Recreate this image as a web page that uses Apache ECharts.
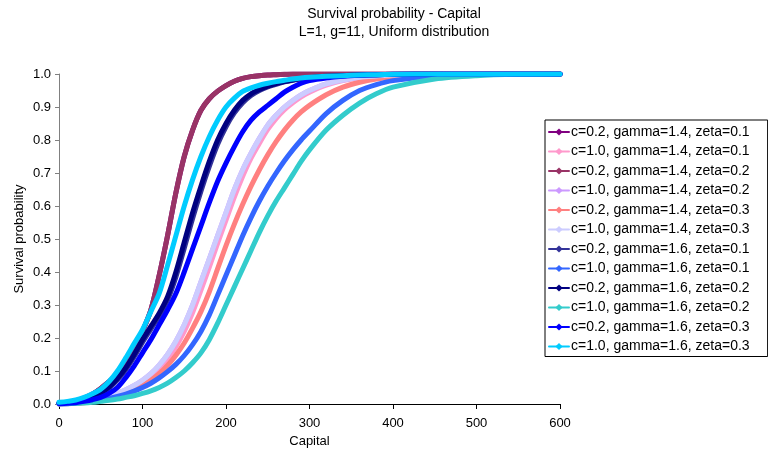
<!DOCTYPE html>
<html>
<head>
<meta charset="utf-8">
<script src="https://cdn.jsdelivr.net/npm/echarts@6/dist/echarts.min.js"></script>
<style>
html,body{margin:0;padding:0;background:#fff;}
#chart{width:768px;height:454px;}
</style>
</head>
<body>
<div id="chart"></div>
<script>
// Capital grid (x values)
const capital = [0,10,20,30,40,50,60,70,80,90,100,110,120,130,140,150,160,170,180,190,200,210,220,230,240,250,260,270,280,290,300,320,340,360,380,400,450,500,550,600];
const xTicks = [0,100,200,300,400,500,600];
const yTicks = [0,0.1,0.2,0.3,0.4,0.5,0.6,0.7,0.8,0.9,1.0];

const seriesNames = [
  'c=0.2, gamma=1.4, zeta=0.1','c=1.0, gamma=1.4, zeta=0.1',
  'c=0.2, gamma=1.4, zeta=0.2','c=1.0, gamma=1.4, zeta=0.2',
  'c=0.2, gamma=1.4, zeta=0.3','c=1.0, gamma=1.4, zeta=0.3',
  'c=0.2, gamma=1.6, zeta=0.1','c=1.0, gamma=1.6, zeta=0.1',
  'c=0.2, gamma=1.6, zeta=0.2','c=1.0, gamma=1.6, zeta=0.2',
  'c=0.2, gamma=1.6, zeta=0.3','c=1.0, gamma=1.6, zeta=0.3'
];

const c02_g14_z01 = [0,0.003,0.008,0.018,0.03,0.047,0.068,0.09,0.118,0.16,0.22,0.285,0.39,0.51,0.64,0.75,0.83,0.89,0.925,0.948,0.965,0.978,0.987,0.992,0.995,0.997,0.998,0.999,1,1,1,1,1,1,1,1,1,1,1,1];
const c10_g14_z01 = [0,0.001,0.003,0.005,0.009,0.014,0.02,0.028,0.038,0.05,0.065,0.083,0.107,0.137,0.174,0.22,0.277,0.345,0.415,0.487,0.557,0.627,0.69,0.745,0.79,0.832,0.865,0.892,0.913,0.931,0.945,0.966,0.98,0.988,0.993,0.996,0.999,1,1,1];
const c02_g14_z02 = [0,0.003,0.008,0.018,0.03,0.047,0.068,0.09,0.118,0.16,0.22,0.285,0.39,0.51,0.64,0.75,0.83,0.89,0.925,0.948,0.965,0.978,0.987,0.992,0.995,0.997,0.998,0.999,1,1,1,1,1,1,1,1,1,1,1,1];
const c10_g14_z02 = [0,0.001,0.003,0.006,0.01,0.016,0.023,0.032,0.043,0.056,0.072,0.092,0.118,0.15,0.19,0.24,0.3,0.37,0.44,0.51,0.58,0.65,0.71,0.76,0.805,0.845,0.875,0.9,0.92,0.937,0.95,0.97,0.982,0.99,0.994,0.997,0.999,1,1,1];
const c02_g14_z03 = [0,0.001,0.002,0.004,0.007,0.011,0.016,0.023,0.032,0.043,0.056,0.072,0.092,0.117,0.148,0.185,0.23,0.28,0.34,0.41,0.48,0.545,0.605,0.66,0.71,0.755,0.795,0.83,0.86,0.885,0.905,0.937,0.96,0.975,0.985,0.991,0.997,0.999,1,1];
const c10_g14_z03 = [0,0.001,0.003,0.006,0.01,0.016,0.023,0.032,0.043,0.056,0.072,0.092,0.118,0.15,0.19,0.24,0.3,0.37,0.44,0.51,0.58,0.65,0.71,0.76,0.805,0.845,0.875,0.9,0.92,0.937,0.95,0.97,0.982,0.99,0.994,0.997,0.999,1,1,1];
const c02_g16_z01 = [0.001,0.003,0.007,0.012,0.02,0.031,0.048,0.073,0.104,0.143,0.187,0.227,0.267,0.315,0.385,0.472,0.562,0.645,0.72,0.787,0.84,0.882,0.913,0.935,0.95,0.961,0.969,0.976,0.981,0.985,0.988,0.992,0.995,0.997,0.998,0.999,1,1,1,1];
const c10_g16_z01 = [0,0.001,0.003,0.005,0.008,0.012,0.017,0.023,0.03,0.039,0.05,0.063,0.079,0.098,0.12,0.147,0.18,0.22,0.27,0.33,0.39,0.45,0.51,0.565,0.615,0.66,0.7,0.737,0.77,0.8,0.827,0.88,0.92,0.95,0.968,0.98,0.994,0.999,1,1];
const c02_g16_z02 = [0.002,0.004,0.008,0.014,0.022,0.034,0.052,0.078,0.11,0.15,0.195,0.235,0.275,0.325,0.4,0.49,0.58,0.66,0.735,0.8,0.85,0.89,0.92,0.94,0.953,0.963,0.971,0.977,0.982,0.986,0.989,0.993,0.995,0.997,0.998,0.999,1,1,1,1];
const c10_g16_z02 = [0,0.001,0.002,0.003,0.005,0.008,0.011,0.015,0.02,0.025,0.032,0.04,0.05,0.063,0.08,0.1,0.125,0.155,0.195,0.245,0.3,0.355,0.41,0.465,0.52,0.57,0.615,0.655,0.695,0.735,0.77,0.83,0.875,0.912,0.94,0.96,0.985,0.995,0.999,1];
const c02_g16_z03 = [0.001,0.002,0.004,0.008,0.013,0.02,0.032,0.05,0.08,0.115,0.155,0.195,0.24,0.285,0.335,0.4,0.47,0.54,0.61,0.675,0.73,0.78,0.825,0.86,0.885,0.905,0.925,0.945,0.96,0.972,0.98,0.988,0.993,0.996,0.998,0.999,1,1,1,1];
const c10_g16_z03 = [0.005,0.008,0.012,0.02,0.031,0.045,0.068,0.1,0.14,0.183,0.225,0.28,0.335,0.42,0.51,0.6,0.68,0.75,0.81,0.86,0.9,0.927,0.947,0.958,0.966,0.972,0.977,0.981,0.985,0.988,0.99,0.993,0.995,0.997,0.998,0.999,1,1,1,1];

const seriesValues = [c02_g14_z01,c10_g14_z01,c02_g14_z02,c10_g14_z02,c02_g14_z03,c10_g14_z03,
                      c02_g16_z01,c10_g16_z01,c02_g16_z02,c10_g16_z02,c02_g16_z03,c10_g16_z03];
const colors = ['#800080','#FF99CC','#993366','#CC99FF','#FF8080','#CCCCFF',
                '#333399','#3366FF','#000080','#33CCCC','#0000FF','#00CCFF'];

const FONT = 'Liberation Sans, Arial, sans-serif';
const chart = echarts.init(document.getElementById('chart'), null, {renderer:'canvas'});
chart.setOption({
  animation: false,
  color: colors,
  textStyle: {fontFamily: FONT},
  title: {
    text: 'Survival probability - Capital\nL=1, g=11, Uniform distribution',
    left: 394, top: 5, textAlign: 'center', padding: 0,
    textStyle: {fontSize: 14, fontWeight: 'normal', color: '#000', lineHeight: 18, fontFamily: FONT}
  },
  grid: {left: 59, right: 208, top: 74, bottom: 50},
  legend: {
    orient: 'vertical', left: 545, top: 120,
    borderColor: '#000', borderWidth: 1,
    padding: [5, 18, 3, 3],
    itemGap: 5.5, itemWidth: 20, itemHeight: 9,
    textStyle: {fontSize: 14, color: '#000', fontFamily: FONT, padding: [0,0,0,-3]},
    lineStyle: {width: 2},
    data: seriesNames
  },
  xAxis: {
    type: 'value', min: xTicks[0], max: xTicks[xTicks.length-1], interval: 100,
    name: 'Capital', nameLocation: 'middle', nameGap: 29,
    nameTextStyle: {fontSize: 13, color: '#000', fontFamily: FONT},
    axisLine: {lineStyle: {color: '#000', width: 1}},
    axisTick: {show: true, length: 5, lineStyle: {color: '#000'}},
    axisLabel: {fontSize: 13, color: '#000', margin: 13, fontFamily: FONT},
    splitLine: {show: false}
  },
  yAxis: {
    type: 'value', min: yTicks[0], max: yTicks[yTicks.length-1], interval: 0.1,
    name: 'Survival probability', nameLocation: 'middle', nameGap: 33, nameRotate: 90,
    nameMoveOverlap: false,
    nameTextStyle: {fontSize: 13, color: '#000', fontFamily: FONT},
    axisLine: {show: true, lineStyle: {color: '#808080', width: 1}},
    axisTick: {show: true, length: 4, lineStyle: {color: '#808080'}},
    axisLabel: {fontSize: 13, color: '#000', margin: 8, fontFamily: FONT, formatter: v => v.toFixed(1)},
    splitLine: {show: false}
  },
  series: seriesValues.map((vals, i) => ({
    name: seriesNames[i],
    type: 'line',
    data: capital.map((x, k) => [x, vals[k]]),
    symbol: 'diamond', symbolSize: 7, showSymbol: false,
    smooth: 0.3,
    lineStyle: {width: 5, color: colors[i], cap: 'round', join: 'round'},
    itemStyle: {color: colors[i]},
    emphasis: {disabled: true}
  }))
});
</script>
</body>
</html>
